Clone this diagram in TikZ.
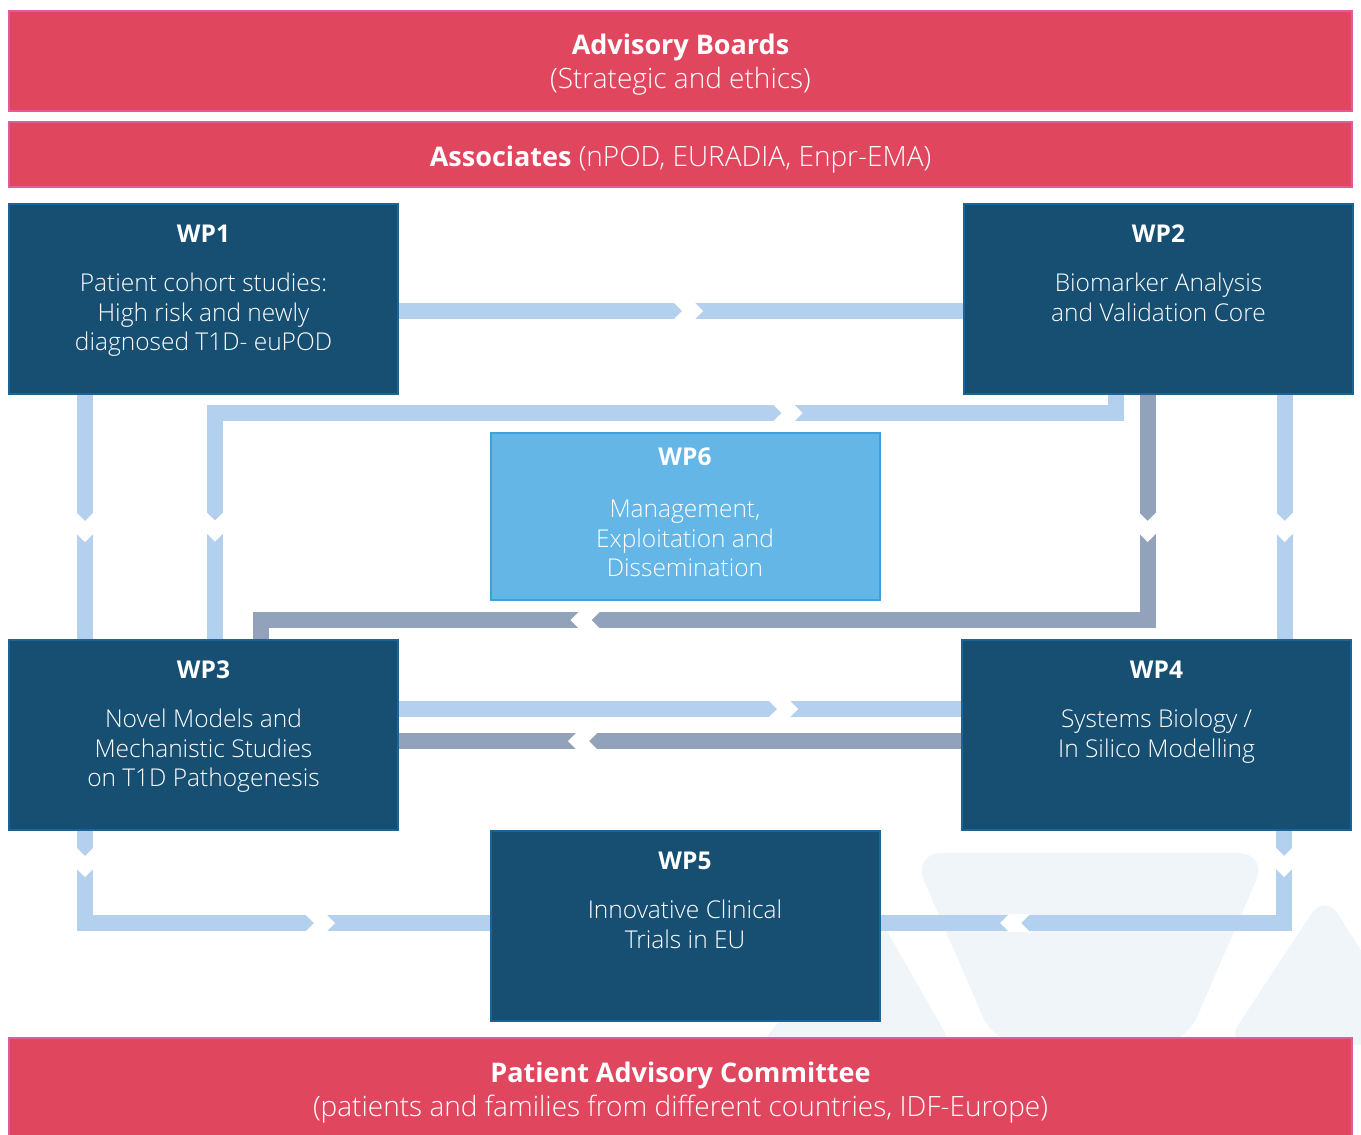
\documentclass[tikz,border=0pt]{standalone}
\usepackage{fontspec}
\setmainfont{Open Sans}
\newfontfamily\lightfont{Open Sans Light}
\usetikzlibrary{positioning,decorations.markings}

\definecolor{boardred}{HTML}{E0475F}
\definecolor{boardedge}{HTML}{E35B9B}
\definecolor{wpblue}{HTML}{174F73}
\definecolor{wpedge}{HTML}{1B6495}
\definecolor{mgmtblue}{HTML}{63B6E6}
\definecolor{mgmtedge}{HTML}{3FA0DC}
\definecolor{flowlight}{HTML}{B3D1EE}
\definecolor{flowgrey}{HTML}{92A2BB}
\definecolor{markbg}{HTML}{F0F5FA}

\begin{document}
\begin{tikzpicture}[x=1pt,y=-1pt]
  \tikzset{
    board/.style={draw=boardedge,line width=2pt,fill=boardred,
      minimum width=1343pt},
    boardtext/.style={text=white,inner sep=0pt,align=center,
      font=\lightfont\fontsize{28}{34}\selectfont},
    wp/.style={draw=wpedge,line width=2pt,fill=wpblue,
      minimum width=389pt,minimum height=190pt},
    mgmt/.style={wp,draw=mgmtedge,fill=mgmtblue,minimum height=167pt},
    wptext/.style={text=white,align=center,inner sep=0pt,anchor=north,
      font=\lightfont\fontsize{24.5}{29.5}\selectfont},
    flow/.style={line width=16pt,draw=flowlight},
    back/.style={flow,draw=flowgrey},
    gap/.style={postaction={decorate,decoration={markings,
      mark=at position #1 with {\fill[white] (-15pt,-9pt) -- (-6pt,0pt)
        -- (-15pt,9pt) -- (6pt,9pt) -- (15pt,0pt) -- (6pt,-9pt) -- cycle;}}}},
    revgap/.style={postaction={decorate,decoration={markings,
      mark=at position #1 with {\fill[white,xscale=-1] (-15pt,-9pt) -- (-6pt,0pt)
        -- (-15pt,9pt) -- (6pt,9pt) -- (15pt,0pt) -- (6pt,-9pt) -- cycle;}}}},
  }
  \useasboundingbox (0,0) rectangle (1361,1135);

  % faint logo behind the lower right corner
  \fill[markbg,rounded corners=30pt] (912,853) -- (1268,853) -- (1185,1045) -- (995,1045) -- cycle;
  \fill[markbg,rounded corners=25pt] (1225,1045) -- (1325,893) -- (1420,1045) -- cycle;
  \fill[markbg,rounded corners=15pt] (760,1045) -- (872,905) -- (952,1045) -- cycle;

  \node [board,minimum height=100pt] (adv)   at (680.5,61)    {};
  \node [board,minimum height=65pt]  (assoc) at (680.5,154.5) {};
  \node [board,minimum height=98pt]  (pac)   at (680.5,1087)  {};

  \node [boardtext] (advt)   at ([yshift=-3.5pt]adv.center)   {{\rmfamily\bfseries\fontsize{27}{34}\selectfont Advisory Boards}\\(Strategic and ethics)};
  \node [boardtext] (assoct) at ([yshift=-5pt]assoc.center)   {{\rmfamily\bfseries\fontsize{27}{34}\selectfont Associates} (nPOD, EURADIA, Enpr-EMA)};
  \node [boardtext] (pact)   at ([yshift=-6pt]pac.center)     {{\rmfamily\bfseries\fontsize{27}{34}\selectfont Patient Advisory Committee}\\(patients and families from different countries, IDF-Europe)};

  \node [wp]   (wp1) at (203.5,299) {};
  \node [wp]   (wp2) [right=564pt of wp1] {};
  \node [mgmt] (wp6) at (685,516.5) {};
  \node [wp]   (wp3) [below=244pt of wp1] {};
  \node [wp]   (wp4) [right=562pt of wp3] {};
  \node [wp]   (wp5) at (685,926) {};

  \node [wptext,below=22pt of wp1.north] (wp1t) {{\rmfamily\bfseries WP1}\\[19.5pt]Patient cohort studies:\\High risk and newly\\diagnosed T1D- euPOD};
  \node [wptext,below=22pt of wp2.north] (wp2t) {{\rmfamily\bfseries WP2}\\[19.5pt]Biomarker Analysis\\and Validation Core};
  \node [wptext,below=16pt of wp6.north] (wp6t) {{\rmfamily\bfseries WP6}\\[22.5pt]Management,\\Exploitation and\\Dissemination};
  \node [wptext,below=22pt of wp3.north] (wp3t) {{\rmfamily\bfseries WP3}\\[19.5pt]Novel Models and\\Mechanistic Studies\\on T1D Pathogenesis};
  \node [wptext,below=22pt of wp4.north] (wp4t) {{\rmfamily\bfseries WP4}\\[19.5pt]Systems Biology /\\In Silico Modelling};
  \node [wptext,below=22pt of wp5.north] (wp5t) {{\rmfamily\bfseries WP5}\\[19.5pt]Innovative Clinical\\Trials in EU};

  \draw [flow,gap=289pt] ([yshift=-12pt]wp1.east) -- ([yshift=-12pt]wp2.west);
  \draw [flow,revgap=346pt,gap=1032pt] ([xshift=-43pt]wp2.south) -- ++(0,18) -| ([xshift=11.5pt]wp3.north);
  \draw [back,gap=132pt,gap=787pt] ([xshift=-11pt]wp2.south) -- ++(0,225) -| ([xshift=57.5pt]wp3.north);
  \draw [flow,gap=132pt] ([xshift=-118.5pt]wp1.south) -- ([xshift=-118.5pt]wp3.north);
  \draw [flow,gap=132pt] ([xshift=126pt]wp2.south) -- ++(0,244);
  \draw [flow,gap=384pt] ([yshift=26pt]wp3.east) -- ([yshift=26pt]wp4.west);
  \draw [back,gap=378pt] ([yshift=-6pt]wp4.west) -- ([yshift=-6pt]wp3.east);
  \draw [flow,gap=31pt,gap=327pt] ([xshift=-118.5pt]wp3.south) |- ([yshift=3pt]wp5.west);
  \draw [flow,gap=31pt,gap=361pt] ([xshift=127.5pt]wp4.south) |- ([yshift=3pt]wp5.east);
\end{tikzpicture}
\end{document}
